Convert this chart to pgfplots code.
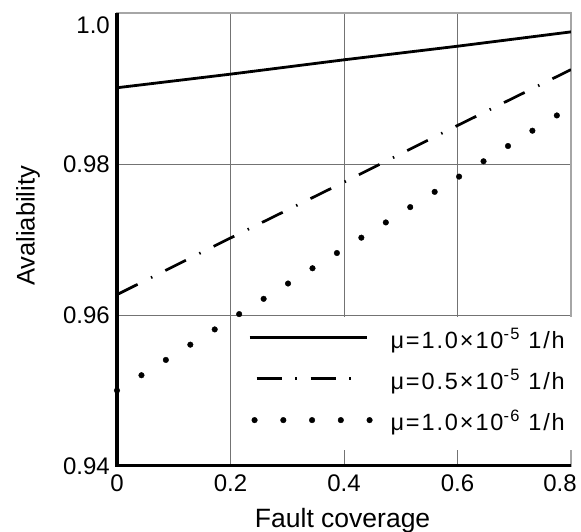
\documentclass[border=0pt]{standalone}
\usepackage{fontspec}
\setmainfont{Liberation Sans}
\usepackage{pgfplots}
\pgfplotsset{compat=1.18}
\begin{document}
\begin{tikzpicture}
\begin{axis}[
  scale only axis, width=454pt, height=453pt,
  xmin=0, xmax=0.8, ymin=0.94, ymax=1.0,
  xtick={0,0.2,0.4,0.6,0.8},
  xticklabels={0,0.2,0.4,0.6,\hspace*{-22pt}0.8},
  ytick={0.94,0.96,0.98,1.0},
  yticklabels={0.94,0.96,0.98,\smash{\raisebox{-20.5pt}{1.0}}},
  grid=major,
  grid style={draw=black!55, line width=0.9pt},
  axis line style={draw=black!35, line width=1.5pt},
  tick align=inside,
  major tick length=5pt,
  tick style={draw=black!55, line width=0.9pt},
  /pgf/number format/assume math mode=true,
  tick label style={font=\fontsize{24}{28}\selectfont},
  xticklabel style={inner sep=0pt, anchor=north, yshift=-9pt},
  yticklabel style={inner sep=0pt, anchor=east, xshift=-7pt},
  xlabel={Fault coverage},
  ylabel={Avaliability},
  xlabel style={font=\fontsize{26.5}{30}\selectfont, at={(axis description cs:0.497,-0.1347)}, anchor=base, inner sep=0pt},
  ylabel style={font=\fontsize{25.5}{30}\selectfont, at={(axis description cs:-0.1696,0.53)}, anchor=south, inner sep=0pt},
  legend style={at={(axis cs:0.2167,0.9598)}, anchor=north west, draw=none, fill=white,
    inner xsep=8pt, inner ysep=15pt,
    font=\fontsize{23.5}{27}\selectfont\addfontfeatures{LetterSpace=8},
    row sep=18.7pt, column sep=18pt,
    nodes={inner sep=0pt, text height=17pt, text depth=5pt}},
  legend cell align=left,
]
\addplot[black, line width=2.8pt,
  legend image code/.code={\path[draw=none,fill=none] (0pt,-3pt) rectangle (122pt,3pt); \draw[line width=2.8pt] (0pt,5pt) -- (117pt,5pt);}]
  coordinates {(0,0.9901) (0.2,0.9919) (0.4,0.9938) (0.6,0.9956) (0.8,0.9975)};
\addlegendentry{μ=1.0×10\textsuperscript{-5} 1/h}
\addplot[black, line width=2.7pt, dash pattern=on 23pt off 15pt on 1.5pt off 14.5pt,
  legend image code/.code={\path[draw=none,fill=none] (0pt,-3pt) rectangle (122pt,3pt); \draw[line width=2.7pt, dash pattern=on 25pt off 13.5pt on 1.5pt off 14pt] (7pt,5pt) -- (102pt,5pt);}]
  coordinates {(0,0.9627) (0.2,0.9702) (0.4,0.9776) (0.6,0.9851) (0.8,0.9925)};
\addlegendentry{μ=0.5×10\textsuperscript{-5} 1/h}
\addplot[black, only marks, mark=*, mark size=2.8pt,
  legend image code/.code={\path[draw=none,fill=none] (0pt,-3pt) rectangle (122pt,3pt); \foreach \i in {0,...,4} \fill[black] ({5pt+\i*28.75pt},4pt) circle (2.8pt);}]
  coordinates {
  (0,0.9500) (0.0431,0.95202) (0.0861,0.95405) (0.1292,0.95607) (0.1722,0.95809)
  (0.2153,0.96012) (0.2584,0.96214) (0.3014,0.96417) (0.3445,0.96619) (0.3875,0.96821)
  (0.4306,0.97024) (0.4737,0.97226) (0.5167,0.97429) (0.5598,0.97631) (0.6028,0.97833)
  (0.6459,0.98036) (0.6890,0.98238) (0.7320,0.98441) (0.7751,0.98643)};
\addlegendentry{μ=1.0×10\textsuperscript{-6} 1/h}
\end{axis}
\draw[line width=3pt, black, line join=miter] (0,453pt) -- (0,0) -- (454pt,0);
\pgfresetboundingbox
\path[use as bounding box] (-117pt,-66pt) rectangle (464pt,466pt);
\end{tikzpicture}
\end{document}
